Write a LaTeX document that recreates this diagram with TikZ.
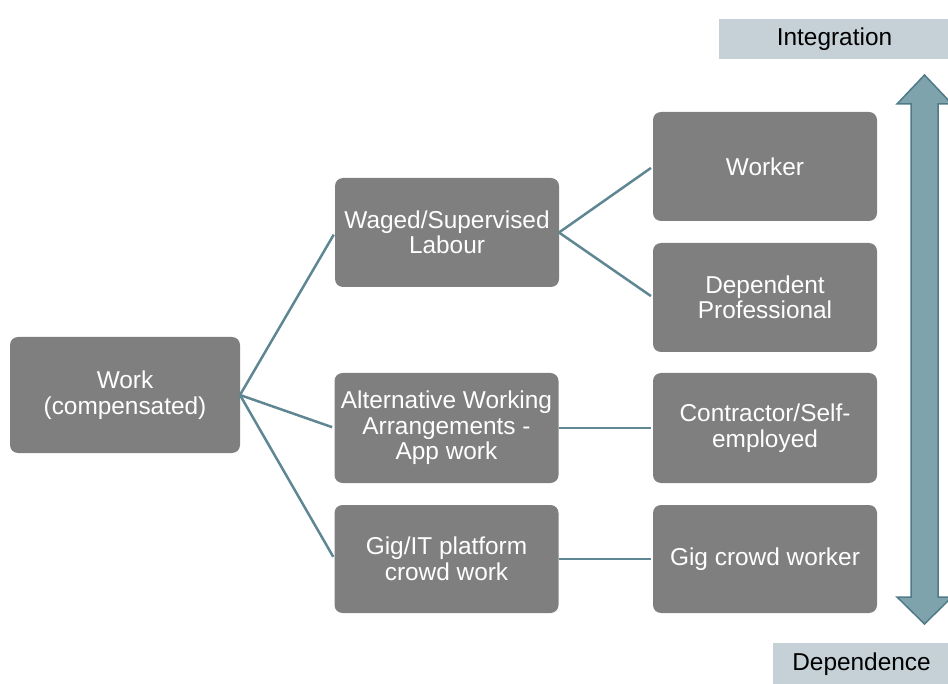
\documentclass[tikz,border=0pt]{standalone}
\usepackage{fontspec}
\setmainfont{Liberation Sans}
\definecolor{boxgray}{HTML}{7F7F7F}
\definecolor{linecol}{HTML}{5F8793}
\definecolor{arrowfill}{HTML}{7FA3AD}
\definecolor{arrowedge}{HTML}{4F7A87}
\definecolor{labelfill}{HTML}{C5D1D7}
\tikzset{
  box/.style={rectangle, rounded corners=8pt, fill=boxgray, text=white, align=center,
    inner sep=0pt, outer sep=0pt, minimum width=224pt, minimum height=109pt,
    font=\fontsize{24.4}{25.5}\selectfont},
  tag/.style={rectangle, fill=labelfill, text=black, inner sep=0pt, outer sep=0pt,
    font=\fontsize{24.4}{25.5}\selectfont},
  conn/.style={draw=linecol, line width=2.5pt, shorten >=2.5pt}
}
\begin{document}
\begin{tikzpicture}[x=1pt,y=-1pt]
\useasboundingbox (0,0) rectangle (948,684);
% nodes
\node[box, minimum width=230pt, minimum height=116pt] (work) at (125,395) {Work\\(compensated)};
\node[box] (waged) at (447,232.5) {Waged/Supervised\\Labour};
\node[box, minimum height=110pt] (alt) at (446.5,428) {Alternative Working\\Arrangements -\\App work};
\node[box, minimum height=108pt] (gig) at (446.5,559) {Gig/IT platform\\crowd work};
\node[box] (worker) at (765,166.5) {Worker};
\node[box] (dep) at (765,297.5) {Dependent\\Professional};
\node[box, minimum height=110pt] (contr) at (765,428) {Contractor/Self-\\employed};
\node[box, minimum height=108pt] (gigw) at (765,559) {Gig crowd worker};
% labels
\node[tag, minimum width=231pt, minimum height=40pt] (integ) at (834.5,39) {Integration};
\node[tag, minimum width=177pt, minimum height=42pt] (depend) at (861.5,664) {Dependence};
% connectors
\draw[conn] (work.east) -- (waged.west);
\draw[conn] (work.east) -- (alt.west);
\draw[conn] (work.east) -- (gig.west);
\draw[conn] (waged.east) -- (worker.west);
\draw[conn] (waged.east) -- (dep.west);
\draw[conn] (alt.east) -- (contr.west);
\draw[conn] (gig.east) -- (gigw.west);
% double arrow
\draw[fill=arrowfill, draw=arrowedge, line width=1.5pt, line join=miter]
  (924.5,75) -- (952,104) -- (938,104) -- (938,597) -- (952,597) -- (924.5,624)
  -- (897,597) -- (911,597) -- (911,104) -- (897,104) -- cycle;
\end{tikzpicture}
\end{document}
